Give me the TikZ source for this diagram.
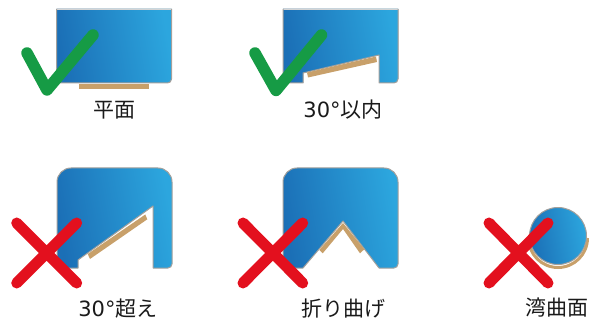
\documentclass[tikz,border=0pt]{standalone}
\usepackage{fontspec}
\setmainfont{DejaVu Sans}
\newfontfamily\cjk{Noto Sans CJK JP}
\tikzset{
  panel/.style={left color=panelA,right color=panelB,shading angle=100},
  edge/.style={draw=edgegray,line width=1pt,line join=round},
  topedge/.style={draw=edgelight,line width=.8pt},
  pad/.style={fill=padtan,draw=none},
  okmark/.style={draw=okgreen,line width=11.5pt,line cap=round,line join=round},
  ngmark/.style={draw=ngred,line width=11pt,line cap=round},
  lab/.style={font=\fontsize{21pt}{24pt}\selectfont,text=labelgray,inner sep=0pt,anchor=base}
}
\definecolor{panelA}{HTML}{1B6FB6}
\definecolor{panelB}{HTML}{2CA6DE}
\definecolor{edgegray}{HTML}{A3A09C}
\definecolor{edgelight}{HTML}{D4D4D4}
\definecolor{padtan}{HTML}{C8A06A}
\definecolor{okgreen}{HTML}{169B45}
\definecolor{ngred}{HTML}{E3101E}
\definecolor{labelgray}{HTML}{1A1A1A}
\begin{document}
\begin{tikzpicture}[x=1pt,y=-1pt]
\path[use as bounding box] (0,0) rectangle (591,320);

% flat
\fill[panel] (56.5,9) -- (171.5,9) [rounded corners=4pt] -- (171.5,83) [sharp corners] -- (56.5,83) -- cycle;
\draw[topedge] (56.5,9) -- (171.5,9);
\draw[edge] (56.5,9) -- (56.5,83) [rounded corners=4pt] -- (171.5,83) [sharp corners] -- (171.5,9);
\fill[pad] (79,84) rectangle (149,89.5);
\draw[okmark] (27,53) -- (47,90) -- (93,35);
\node[lab] (flat) at (114.5,118) {\cjk 平面};

% within 30
\fill[panel] (283,9) -- (398,9) [rounded corners=4pt] -- (398,83) [sharp corners] -- (379,83) -- (379,55) -- (303,73) -- (303,83) -- (283,83) -- cycle;
\draw[topedge] (283,9) -- (398,9);
\draw[edge] (283,9) -- (283,83) -- (303,83) -- (303,73) -- (379,55) -- (379,83) [rounded corners=4pt] -- (398,83) [sharp corners] -- (398,9);
\fill[pad] (307,72.5) -- (376,56.5) -- (377,62) -- (308,77.5) -- cycle;
\draw[okmark] (255,53) -- (276,90.5) -- (321.5,35);
\node[lab] (within) at (343,118) {30°\cjk 以内};

% over 30
\path[panel,edge] (57,268) [rounded corners=14pt] -- (57,168) -- (172,168) [rounded corners=4pt] -- (172,268) [sharp corners] -- (153,268) -- (153,206) -- (78,260) -- (78,268) -- cycle;
\fill[pad] (87.7,254) -- (145.3,214.5) -- (147.3,219.3) -- (90,259) -- cycle;
\draw[ngmark] (16.7,223) -- (76.7,283) (76.7,223) -- (16.7,283);
\node[lab] (over) at (118,316) {30°\cjk 超え};

% folded
\path[panel,edge] (283,268) [rounded corners=14pt] -- (283,168) -- (398,168) [rounded corners=4pt] -- (398,268) [sharp corners] -- (379,268) -- (343,221) -- (303,268) -- cycle;
\fill[pad] (319.3,250) -- (343,223) -- (364.3,249.3) -- (360,253.3) -- (343,229) -- (322.7,253.3) -- cycle;
\draw[ngmark] (243,223) -- (302.7,283) (302.7,223) -- (243,283);
\node[lab] (fold) at (343,316) {\cjk 折り曲げ};

% curved
\draw[padtan,line width=3pt] (528.5,238) arc[start angle=180,end angle=0,radius=29.5];
\path[panel,edge] (558,236) circle[radius=28.5];
\draw[ngmark] (489,223) -- (548,283) (548,223) -- (489,283);
\node[lab] (curve) at (556.5,315) {\cjk 湾曲面};
\end{tikzpicture}
\end{document}
